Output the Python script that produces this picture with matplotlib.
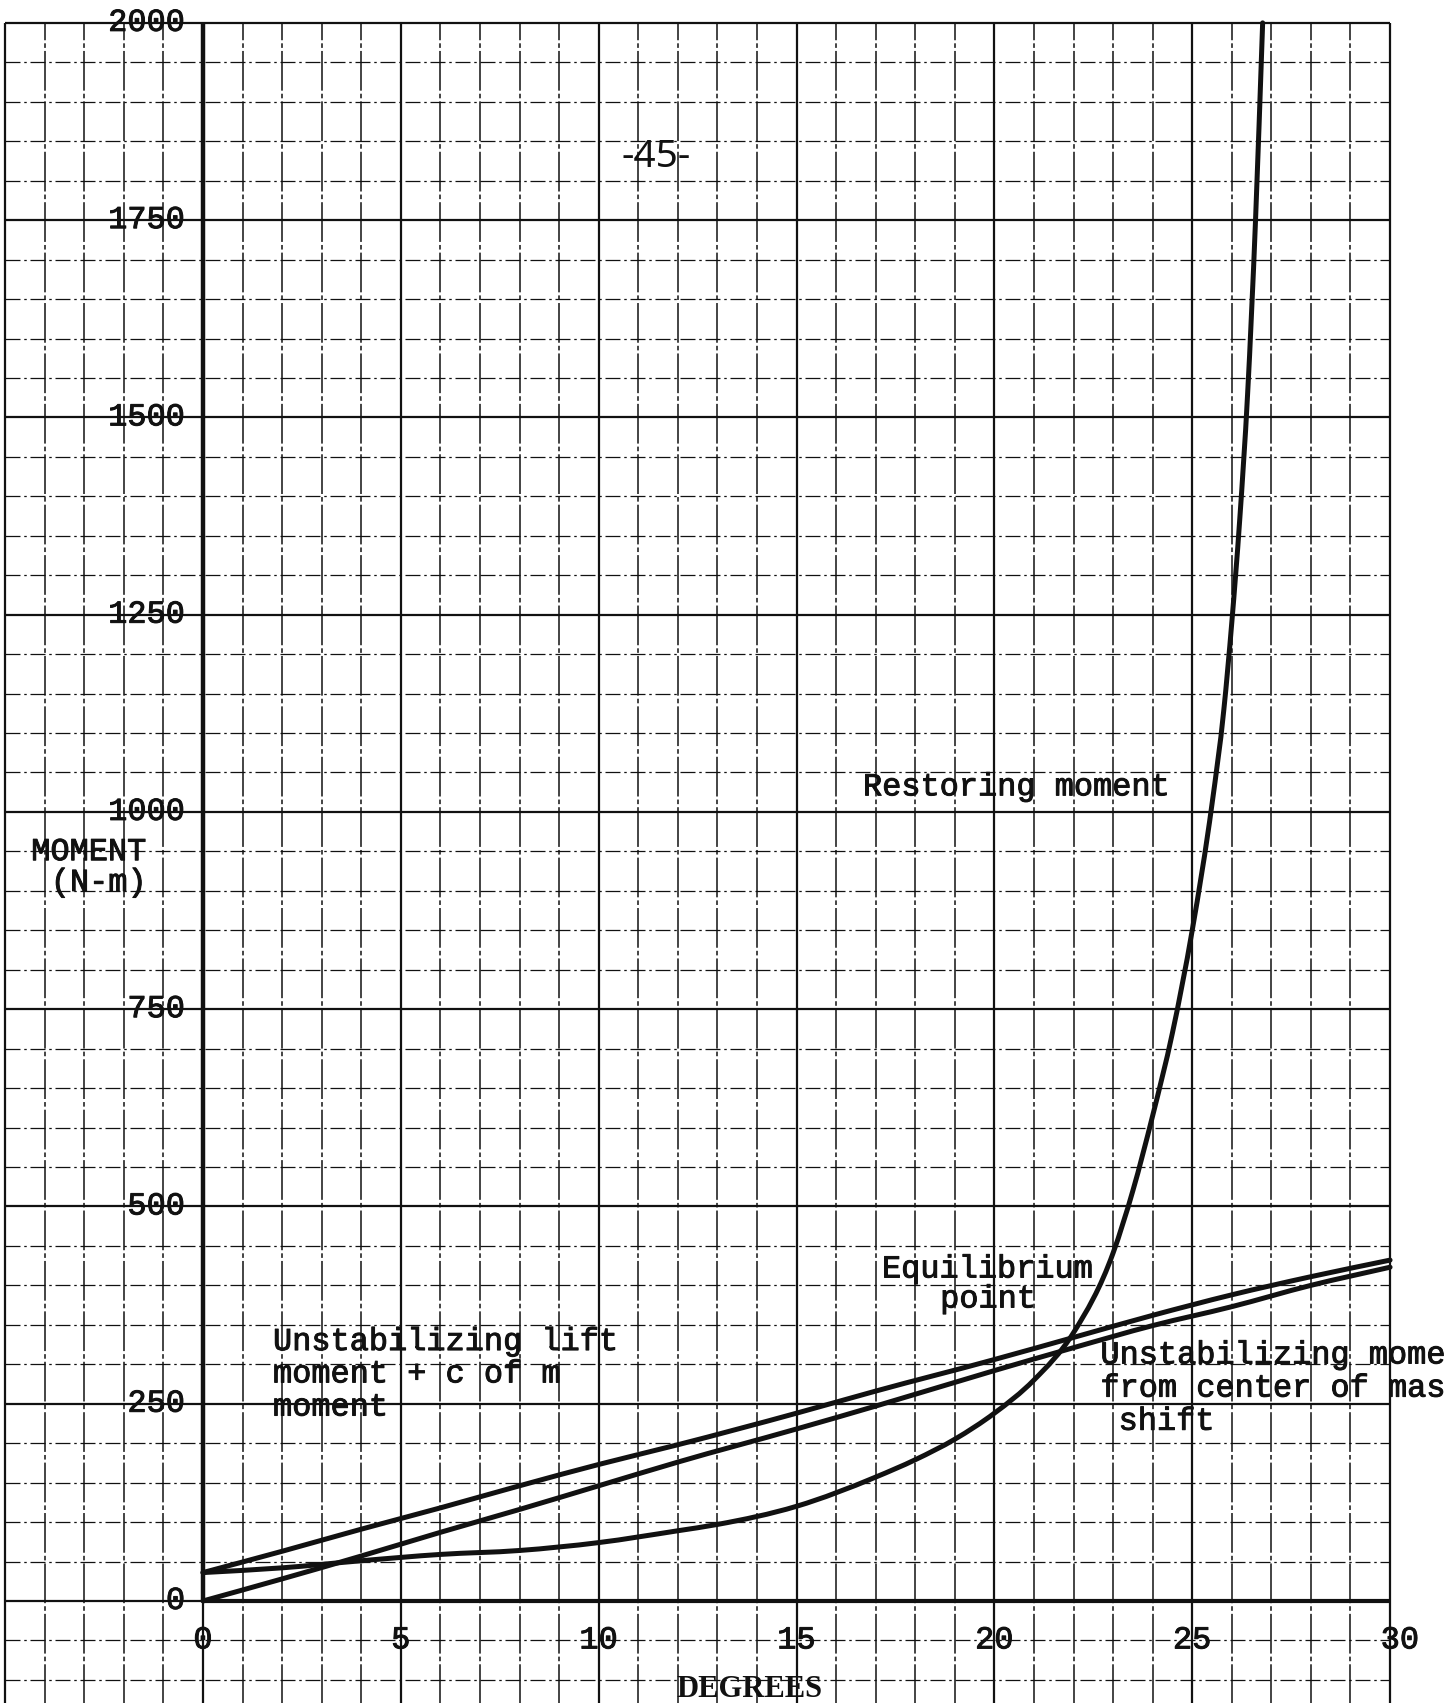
import numpy as np
import matplotlib.pyplot as plt
import matplotlib.patheffects as pe
from matplotlib.path import Path
from matplotlib.patches import PathPatch

# heel angle (degrees) against moment (N-m)
deg_lines = [0, 2, 4, 6, 8, 10, 12, 15, 17, 20, 22, 24, 26, 28, 30]
lift_cm_moment = [36, 63, 91, 118, 146, 173, 198, 238, 266, 306, 334, 362, 388, 411, 432]
cm_shift_moment = [0, 28, 57, 87, 116, 146, 176, 218, 247, 292, 321, 349, 373, 400, 423]

deg_restoring = [0, 2, 4, 6, 8, 10, 12, 13, 15, 17, 18, 19, 20, 21, 22,
                 23, 23.5, 24, 24.5, 25, 25.5, 25.8, 26, 26.2, 26.4, 26.6, 26.78]
restoring_moment = [36, 42, 51, 59, 64, 74, 89, 97, 120, 157, 179, 205, 238, 280, 340,
                    441, 520, 615, 720, 850, 1010, 1130, 1240, 1370, 1530, 1750, 2000]

x_ticks = [0, 5, 10, 15, 20, 25, 30]
y_ticks = [0, 250, 500, 750, 1000, 1250, 1500, 1750, 2000]

INK = '#111111'
MONO = 'Liberation Mono'
SERIF = 'Liberation Serif'
heavy = [pe.withStroke(linewidth=0.7, foreground=INK)]


def smooth_path(x, y):
    """Monotone cubic through the points, built from Bezier segments."""
    x = np.asarray(x, float)
    y = np.asarray(y, float)
    h = np.diff(x)
    d = np.diff(y) / h
    m = np.empty_like(x)
    m[0], m[-1] = d[0], d[-1]
    m[1:-1] = (h[1:] * d[:-1] + h[:-1] * d[1:]) / (h[:-1] + h[1:])
    m[1:-1][d[:-1] * d[1:] <= 0] = 0
    for k in range(len(d)):
        if d[k] == 0:
            m[k] = m[k + 1] = 0
            continue
        a, b = m[k] / d[k], m[k + 1] / d[k]
        s = a * a + b * b
        if s > 9:
            t = 3 / np.sqrt(s)
            m[k], m[k + 1] = t * a * d[k], t * b * d[k]
    verts = [(x[0], y[0])]
    codes = [Path.MOVETO]
    for k in range(len(h)):
        verts += [(x[k] + h[k] / 3, y[k] + m[k] * h[k] / 3),
                  (x[k + 1] - h[k] / 3, y[k + 1] - m[k + 1] * h[k] / 3),
                  (x[k + 1], y[k + 1])]
        codes += [Path.CURVE4] * 3
    return Path(verts, codes)


fig = plt.figure(figsize=(14.51, 17.03), dpi=100)
ax = fig.add_axes([0, 0, 1, 1])
ax.set_xlim(-5.13, 31.54)
ax.set_ylim(-129.3, 2029)
ax.axis('off')

# graph paper: one square per degree and per 50 N-m
x_left, x_right = -5, 30
y_bottom, y_top = -140, 2000
minor_v = [v for v in range(x_left, x_right + 1) if v % 5]
major_v = [v for v in range(x_left, x_right + 1) if v % 5 == 0]
minor_h = [v for v in range(-100, y_top + 1, 50) if v % 250]
major_h = [v for v in range(-100, y_top + 1, 50) if v % 250 == 0]

ax.vlines(minor_v, y_bottom, y_top, colors=INK, lw=1.1,
          linestyles=[(0, (26, 2, 3, 2))], zorder=1)
ax.vlines(major_v, y_bottom, y_top, colors=INK, lw=1.6, zorder=1)
ax.hlines(minor_h, x_left, x_right, colors=INK, lw=0.9,
          linestyles=[(0, (12, 3, 2, 3))], zorder=1)
ax.hlines(major_h, x_left, x_right, colors=INK, lw=1.6, zorder=1)

# heavy axes
ax.plot([0, 30], [0, 0], color=INK, lw=3.0, zorder=2, solid_capstyle='butt')
ax.plot([0, 0], [0, 2000], color=INK, lw=3.2, zorder=2, solid_capstyle='butt')

# curves
for xs, ys in [(deg_lines, lift_cm_moment),
               (deg_lines, cm_shift_moment),
               (deg_restoring, restoring_moment)]:
    ax.add_patch(PathPatch(smooth_path(xs, ys), fill=False, edgecolor=INK,
                           lw=3.6, capstyle='round', joinstyle='round', zorder=3))

# tick labels
for v in y_ticks:
    ax.text(-0.45, v, f'{v}', ha='right', va='center', fontsize=23,
            family=MONO, color=INK, zorder=4, path_effects=heavy)
for v in x_ticks:
    ax.text(v + (0.25 if v == 30 else 0), -50, f'{v}', ha='center', va='center',
            fontsize=23, family=MONO, color=INK, zorder=4, path_effects=heavy)

ax.text(13.8, -112, 'DEGREES', ha='center', va='center', fontsize=22,
        family=SERIF, weight='bold', color=INK)
ax.text(-2.88, 949, 'MOMENT', ha='center', va='center', fontsize=23,
        family=MONO, color=INK, path_effects=heavy)
ax.text(-2.63, 910, '(N-m)', ha='center', va='center', fontsize=23,
        family=MONO, color=INK, path_effects=heavy)
ax.text(11.45, 1830, '-45-', ha='center', va='center', fontsize=28,
        family='Noto Sans', color=INK)

# curve captions
text_kw = dict(fontsize=23, family=MONO, color=INK, ha='left', va='baseline',
               zorder=4, path_effects=heavy)
ax.text(16.68, 1021, 'Restoring moment', **text_kw)
ax.text(17.16, 410, 'Equilibrium', **text_kw)
ax.text(18.63, 372, 'point', **text_kw)
ax.text(1.77, 318, 'Unstabilizing lift', **text_kw)
ax.text(1.77, 277, 'moment + c of m', **text_kw)
ax.text(1.77, 235, 'moment', **text_kw)
# the right-hand caption runs off the sheet edge
ax.text(22.68, 301, 'Unstabilizing mome', **text_kw)
ax.text(22.68, 259, 'from center of mas', **text_kw)
ax.text(23.14, 217, 'shift', **text_kw)

fig.savefig('out.png', dpi=100)
